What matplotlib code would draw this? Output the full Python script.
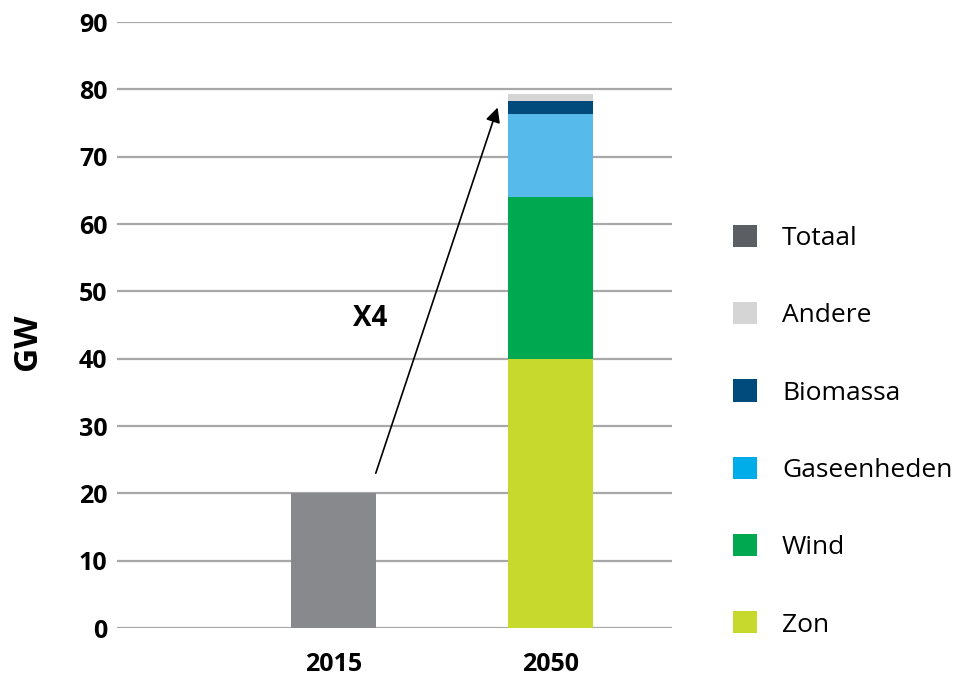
import matplotlib.pyplot as plt
from matplotlib.patches import Patch

plt.rcParams['font.family'] = ['Open Sans', 'DejaVu Sans']

years = ['2015', '2050']
totaal = [20, 0]
zon = [0, 40]
wind = [0, 24]
gas = [0, 12.3]
biomassa = [0, 2.0]
andere = [0, 1.0]

legend_labels = ['Totaal', 'Andere', 'Biomassa', 'Gaseenheden', 'Wind', 'Zon']
legend_colors = ['#5b5e63', '#d5d5d5', '#004a7c', '#00ade8', '#00a94f', '#c8d92e']

fig = plt.figure(figsize=(9.55, 6.75), dpi=100)
ax = fig.add_axes([0.1225, 0.0696, 0.581, 0.8978])

x = [0, 1]
w = 0.39
ax.bar(x, totaal, width=w, color='#88898c', zorder=3)
bottom = [0, 0]
for vals, col in [(zon, '#c8d92e'), (wind, '#00a94f'), (gas, '#56bbea'),
                  (biomassa, '#004a7c'), (andere, '#d5d5d5')]:
    ax.bar(x, vals, width=w, bottom=bottom, color=col, zorder=3)
    bottom = [b + v for b, v in zip(bottom, vals)]

ax.set_xlim(-1, 1.56)
ax.set_ylim(0, 90)
ax.set_yticks(range(0, 91, 10))
ax.grid(axis='y', color='#a8a8a8', linewidth=1.6, zorder=0)
for s in ax.spines.values():
    s.set_visible(False)
ax.tick_params(axis='both', length=0, labelsize=18)
ax.tick_params(axis='y', pad=7)
ax.tick_params(axis='x', pad=17)
ax.set_xticks(x)
ax.set_xticklabels(years, fontweight='bold')
for t in ax.get_yticklabels():
    t.set_fontweight('bold')
fig.text(28 / 955, 1 - 342 / 675, 'GW', fontsize=24, fontweight='bold',
         rotation=90, ha='center', va='center')

ax.annotate('', xy=(0.756, 77.3), xytext=(0.194, 23.0),
            arrowprops=dict(arrowstyle='-|>', color='black', lw=1.2,
                            mutation_scale=22, shrinkA=0, shrinkB=0), zorder=5)
ax.text(0.166, 46.0, 'X4', fontsize=20, fontweight='bold', ha='center', va='center')

handles = [Patch(facecolor=c, edgecolor='none') for c in legend_colors]
fig.legend(handles, legend_labels, loc='upper left', bbox_to_anchor=(0.7675, 0.667),
           frameon=False, fontsize=19, handlelength=0.91, handleheight=0.91,
           handletextpad=0.95, labelspacing=1.94, borderaxespad=0, borderpad=0)

fig.savefig('out.png', dpi=100)
